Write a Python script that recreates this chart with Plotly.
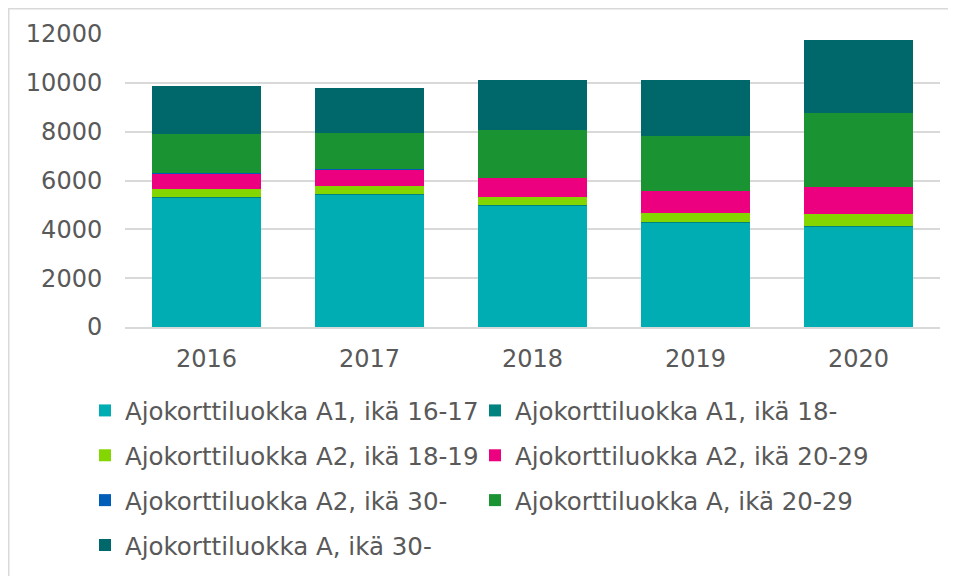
import plotly.graph_objects as go

years = ["2016", "2017", "2018", "2019", "2020"]
series_names = [
    "Ajokorttiluokka A1, ikä 16-17",
    "Ajokorttiluokka A1, ikä 18-",
    "Ajokorttiluokka A2, ikä 18-19",
    "Ajokorttiluokka A2, ikä 20-29",
    "Ajokorttiluokka A2, ikä 30-",
    "Ajokorttiluokka A, ikä 20-29",
    "Ajokorttiluokka A, ikä 30-",
]
a1_16_17 = [5304, 5415, 4964, 4269, 4118]
a1_18 = [15, 15, 15, 15, 15]
a2_18_19 = [327, 327, 340, 368, 503]
a2_20_29 = [655, 696, 790, 925, 1104]
a2_30 = [10, 10, 10, 10, 10]
a_20_29 = [1586, 1503, 1941, 2256, 3006]
a_30 = [1964, 1841, 2046, 2263, 2987]
y_ticks = [0, 2000, 4000, 6000, 8000, 10000, 12000]
y_tick_labels = ["0", "2000", "4000", "6000", "8000", "10000", "12000"]

values = [a1_16_17, a1_18, a2_18_19, a2_20_29, a2_30, a_20_29, a_30]
colors = ["#00ADB3", "#00827F", "#84D600", "#EC0080", "#005EB8", "#1A9433", "#00676A"]
legend_ids = ["legend", "legend2", "legend", "legend2", "legend", "legend2", "legend"]

# the page body adds an 8px offset; figure coordinates below compensate for it
W, H = 956, 576
ml, mr, mt, mb = 117, 24, 26, 257

fig = go.Figure()
for name, vals, col, lg in zip(series_names, values, colors, legend_ids):
    fig.add_trace(go.Bar(
        x=years, y=vals, name=name,
        marker=dict(color=col, line=dict(width=0)),
        legend=lg, legendgroup=name,
    ))

ph = H - mt - mb
pw = W - ml - mr

def px_x(x):
    return (x - ml) / pw

def px_y(y):
    return (H - mb - y) / ph

font_main = dict(family="DejaVu Sans", size=24, color="#595959")
legend_font = dict(family="DejaVu Sans", size=24.5, color="#595959")

fig.update_layout(
    width=W, height=H,
    margin=dict(l=ml, r=mr, t=mt, b=mb, autoexpand=False),
    barmode="stack",
    bargap=0.336,
    plot_bgcolor="white",
    paper_bgcolor="white",
    font=font_main,
    xaxis=dict(
        showgrid=False, showline=True, linecolor="#D9D9D9", linewidth=1.5,
        ticks="outside", ticklen=9, tickcolor="rgba(0,0,0,0)",
        tickfont=font_main, automargin=False,
    ),
    yaxis=dict(
        range=[0, 12000], tickvals=y_ticks, ticktext=y_tick_labels,
        showgrid=True, gridcolor="#D9D9D9", gridwidth=1.5,
        zeroline=False, showline=False,
        ticks="outside", ticklen=17, tickcolor="rgba(0,0,0,0)",
        tickfont=font_main, automargin=False,
    ),
    legend=dict(
        orientation="v", x=px_x(77), xanchor="left", y=px_y(380), yanchor="top",
        traceorder="grouped", tracegroupgap=10, font=legend_font,
        bgcolor="rgba(0,0,0,0)",
    ),
    legend2=dict(
        orientation="v", x=px_x(467), xanchor="left", y=px_y(380), yanchor="top",
        traceorder="grouped", tracegroupgap=10, font=legend_font,
        bgcolor="rgba(0,0,0,0)",
    ),
    shapes=[
        dict(type="line", xref="paper", yref="paper",
             x0=px_x(0), x1=px_x(956), y0=px_y(0.75), y1=px_y(0.75),
             line=dict(color="#D9D9D9", width=1.5)),
        dict(type="line", xref="paper", yref="paper",
             x0=px_x(0.75), x1=px_x(0.75), y0=px_y(0), y1=px_y(576),
             line=dict(color="#D9D9D9", width=1.5)),
    ],
)

fig.write_html("out.html")
